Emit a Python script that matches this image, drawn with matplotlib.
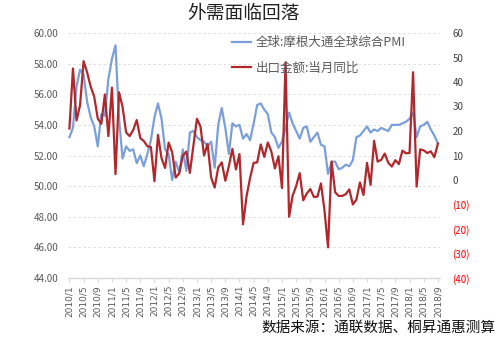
import matplotlib
matplotlib.use("Agg")
import matplotlib.pyplot as plt
from matplotlib.ticker import FuncFormatter

plt.rcParams['font.family'] = ['Noto Sans CJK SC', 'DejaVu Sans']

title = "外需面临回落"
source_note = "数据来源：通联数据、桐昇通惠测算"
pmi_label = "全球:摩根大通全球综合PMI"
export_label = "出口金额:当月同比"

# Monthly observations, 2010/1 .. 2018/9
months = [f"{y}/{m}" for y in range(2010, 2019) for m in range(1, 13)][:105]

pmi = [
    53.2, 53.8, 56.5, 57.6, 57.3, 55.5, 54.5, 53.9, 52.6, 54.7, 54.6, 57.0,
    58.3, 59.2, 54.4, 51.8, 52.6, 52.3, 52.4, 51.5, 52.0, 51.3, 52.1, 53.0,
    54.5, 55.4, 54.4, 52.4, 52.1, 50.4, 51.6, 50.9, 52.4, 51.0, 53.5, 53.6,
    53.2, 53.0, 52.9, 52.6, 52.9, 51.2, 54.0, 55.1, 53.8, 52.1, 54.1, 53.9,
    54.0, 53.1, 53.4, 53.0, 54.1, 55.3, 55.4, 55.0, 54.7, 53.5, 53.2, 52.5,
    52.9, 53.8, 54.8, 54.1, 53.6, 53.1, 53.8, 53.9, 52.9, 53.2, 53.5, 52.7,
    52.6, 50.8, 51.6, 51.6, 51.1, 51.2, 51.4, 51.3, 51.7, 53.2, 53.3, 53.6,
    53.9, 53.5, 53.7, 53.6, 53.8, 53.7, 53.6, 54.0, 54.0, 54.0, 54.1, 54.2,
    54.4, 54.8, 53.2, 53.9, 54.0, 54.2, 53.7, 53.3, 52.8,
]

exports_yoy = [
    21.0, 45.5, 24.3, 30.5, 48.5, 43.9, 38.1, 34.0, 25.1, 22.9, 34.9, 17.9,
    37.7, 2.4, 35.8, 29.9, 19.4, 17.9, 20.4, 24.5, 17.1, 15.9, 13.8, 13.4,
    -0.5, 18.4, 8.9, 4.9, 15.3, 11.3, 1.0, 2.7, 9.9, 11.6, 2.9, 14.1,
    25.0, 21.8, 10.0, 14.7, 1.0, -3.1, 5.1, 7.2, -0.3, 5.6, 12.7, 4.3,
    10.6, -18.1, -6.6, 0.9, 7.0, 7.2, 14.5, 9.4, 15.3, 11.6, 4.7, 9.7,
    -3.3, 48.0, -15.0, -6.4, -2.5, 2.8, -8.3, -5.5, -3.7, -6.9, -6.8, -1.4,
    -12.5, -27.5, 7.5, -5.0, -6.5, -6.5, -5.8, -3.8, -10.0, -8.0, -1.0, -6.1,
    7.0, -2.0, 16.0, 7.5, 8.2, 10.8, 7.0, 5.5, 8.1, 6.5, 12.0, 10.9,
    11.0, 44.0, -2.7, 12.5, 12.1, 11.0, 11.7, 9.3, 14.8,
]

left_ticks = [44, 46, 48, 50, 52, 54, 56, 58, 60]
right_ticks = [-40, -30, -20, -10, 0, 10, 20, 30, 40, 50, 60]

blue = "#7B9FDB"
red = "#B0282C"
grey_text = "#595959"

fig = plt.figure(figsize=(5.0, 3.39), dpi=100)
ax = fig.add_axes([68 / 500, 1 - 278 / 339, (440 - 68) / 500, (278 - 33) / 339])
ax2 = ax.twinx()

x = list(range(len(months)))
l1, = ax.plot(x, pmi, color=blue, lw=1.6, solid_joinstyle='round', zorder=3)
l2, = ax2.plot(x, exports_yoy, color=red, lw=1.6, solid_joinstyle='round', zorder=3)

ax.set_xlim(-0.4, 104.6)
ax.set_ylim(44, 60)
ax2.set_ylim(-40, 60)

ax.set_yticks(left_ticks)
ax.yaxis.set_major_formatter(FuncFormatter(lambda v, p: f"{v:.2f}"))
ax.tick_params(axis='y', length=0, labelsize=7, labelcolor=grey_text, pad=7)
ax.grid(axis='y', color='#D9D9D9', lw=0.6, ls=(0, (3, 3)))

ax2.set_yticks(right_ticks)
ax2.yaxis.set_major_formatter(
    FuncFormatter(lambda v, p: f"({abs(int(v))})" if v < 0 else f"{int(v)}"))
ax2.tick_params(axis='y', length=0, labelsize=7, pad=9)
for lab, v in zip(ax2.get_yticklabels(), right_ticks):
    lab.set_color('#FF0000' if v < 0 else '#404040')

tick_idx = list(range(0, len(months), 4))
ax.set_xticks(tick_idx)
ax.set_xticklabels([months[i] for i in tick_idx], rotation=90, fontsize=6.5,
                   color=grey_text, family='DejaVu Sans')
ax.tick_params(axis='x', length=3, color='#D9D9D9', pad=2)

for a in (ax, ax2):
    for s in ('top', 'left', 'right', 'bottom'):
        a.spines[s].set_visible(False)
ax.spines['bottom'].set_visible(True)
ax.spines['bottom'].set_color('#D9D9D9')
ax.spines['bottom'].set_linewidth(1.0)

fig.legend([l1, l2], [pmi_label, export_label], loc='upper left',
           bbox_to_anchor=(221 / 500, 1 - 25 / 339), frameon=False,
           fontsize=9, handlelength=1.5, handletextpad=0.4, labelspacing=1.0,
           labelcolor=grey_text)

fig.text(244 / 500, 1 - 13 / 339, title, ha='center', va='center', fontsize=13.5,
         color='#222222')
fig.text(495 / 500, 1 - 328 / 339, source_note, ha='right', va='center',
         fontsize=10.5, color='#111111')

fig.savefig("out.png", dpi=100)
